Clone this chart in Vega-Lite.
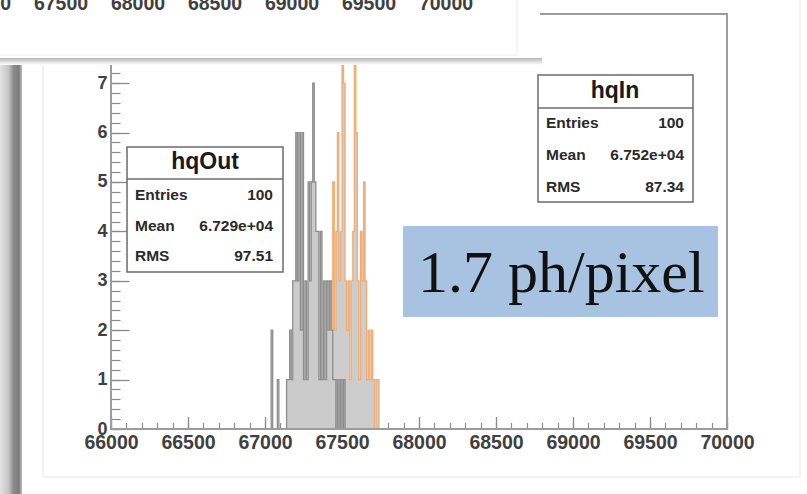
{
  "$schema": "https://vega.github.io/schema/vega-lite/v6.json",
  "width": 616,
  "height": 415,
  "autosize": "none",
  "padding": {"left": 111, "top": 14, "right": 80, "bottom": 65},
  "background": "white",
  "config": {"view": {"stroke": null}},
  "datasets": {
    "hqOut": [
      {"x": 67030, "n": 0}, {"x": 67040, "n": 2}, {"x": 67050, "n": 0}, {"x": 67060, "n": 0},
      {"x": 67070, "n": 0}, {"x": 67080, "n": 1}, {"x": 67090, "n": 0}, {"x": 67100, "n": 0},
      {"x": 67110, "n": 0}, {"x": 67120, "n": 0}, {"x": 67130, "n": 0}, {"x": 67140, "n": 1},
      {"x": 67150, "n": 1}, {"x": 67160, "n": 2}, {"x": 67170, "n": 1}, {"x": 67180, "n": 3},
      {"x": 67190, "n": 3}, {"x": 67200, "n": 6}, {"x": 67210, "n": 3}, {"x": 67220, "n": 6},
      {"x": 67230, "n": 2}, {"x": 67240, "n": 6}, {"x": 67250, "n": 1}, {"x": 67260, "n": 3},
      {"x": 67270, "n": 1}, {"x": 67280, "n": 5}, {"x": 67290, "n": 3}, {"x": 67300, "n": 5},
      {"x": 67310, "n": 7}, {"x": 67320, "n": 5}, {"x": 67330, "n": 4}, {"x": 67340, "n": 4},
      {"x": 67350, "n": 1}, {"x": 67360, "n": 4}, {"x": 67370, "n": 1}, {"x": 67380, "n": 3},
      {"x": 67390, "n": 1}, {"x": 67400, "n": 3}, {"x": 67410, "n": 2}, {"x": 67420, "n": 3},
      {"x": 67430, "n": 2}, {"x": 67440, "n": 1}, {"x": 67450, "n": 1}, {"x": 67460, "n": 0},
      {"x": 67470, "n": 1}, {"x": 67480, "n": 0}, {"x": 67490, "n": 1}, {"x": 67500, "n": 0},
      {"x": 67510, "n": 1}, {"x": 67520, "n": 0}
    ],
    "hqIn": [
      {"x": 67410, "n": 0}, {"x": 67420, "n": 1}, {"x": 67430, "n": 2}, {"x": 67440, "n": 5},
      {"x": 67450, "n": 2}, {"x": 67460, "n": 4}, {"x": 67470, "n": 6}, {"x": 67480, "n": 3},
      {"x": 67490, "n": 4}, {"x": 67500, "n": 8}, {"x": 67510, "n": 7}, {"x": 67520, "n": 3},
      {"x": 67530, "n": 2}, {"x": 67540, "n": 3}, {"x": 67550, "n": 1}, {"x": 67560, "n": 3},
      {"x": 67570, "n": 4}, {"x": 67580, "n": 8}, {"x": 67590, "n": 6}, {"x": 67600, "n": 3},
      {"x": 67610, "n": 1}, {"x": 67620, "n": 4}, {"x": 67630, "n": 3}, {"x": 67640, "n": 5},
      {"x": 67650, "n": 3}, {"x": 67660, "n": 1}, {"x": 67670, "n": 2}, {"x": 67680, "n": 1},
      {"x": 67690, "n": 2}, {"x": 67700, "n": 1}, {"x": 67710, "n": 0}, {"x": 67720, "n": 1},
      {"x": 67730, "n": 1}, {"x": 67740, "n": 0}
    ],
    "topLabels": [
      {"v": 67000}, {"v": 67500}, {"v": 68000}, {"v": 68500}, {"v": 69000}, {"v": 69500}, {"v": 70000}
    ]
  },
  "layer": [
    {
      "data": {"values": [{}]},
      "layer": [
        {
          "mark": {"type": "rect", "fill": "transparent", "stroke": "#e6e6e6", "strokeWidth": 1},
          "encoding": {
            "x": {"datum": 65558.4, "type": "quantitative", "axis": null},
            "x2": {"datum": 70474.0},
            "y": {"datum": -0.9716, "type": "quantitative", "axis": null},
            "y2": {"datum": 8.785}
          }
        },
        {
          "mark": {"type": "rect", "strokeWidth": 0, "fill": {"gradient": "linear", "x1": 0, "y1": 0, "x2": 1, "y2": 0, "stops": [{"offset": 0, "color": "#e2e2e2"}, {"offset": 0.4, "color": "#c4c4c4"}, {"offset": 0.6, "color": "#8e8e8e"}, {"offset": 0.85, "color": "#7c7c7c"}, {"offset": 1, "color": "#bcbcbc"}]}},
          "encoding": {
            "x": {"datum": 65279.2, "type": "quantitative", "axis": null},
            "x2": {"datum": 65422.1},
            "y": {"datum": -1.44, "type": "quantitative", "axis": null},
            "y2": {"datum": 8.785}
          }
        },
        {
          "data": {"name": "hqIn"},
          "mark": {"type": "area", "interpolate": "step-after", "color": "#cdcdcd"},
          "encoding": {
            "x": {"field": "x", "type": "quantitative", "scale": {"domain": [66000, 70000], "nice": false, "zero": false},
              "axis": {"orient": "bottom", "values": [66000, 66500, 67000, 67500, 68000, 68500, 69000, 69500, 70000], "format": "d", "title": null, "grid": false, "domain": false, "tickSize": -12.5, "tickColor": "#8a8a8a", "tickWidth": 1.3, "labelFont": "Liberation Sans", "labelFontWeight": "bold", "labelFontSize": 19.5, "labelColor": "#404040", "labelPadding": 17, "labelFlush": false, "labelOverlap": false, "labelBound": false}},
            "y": {"field": "n", "type": "quantitative", "stack": null, "scale": {"domain": [0, 8.4], "nice": false, "zero": false},
              "axis": {"orient": "left", "values": [0, 1, 2, 3, 4, 5, 6, 7], "title": null, "grid": false, "domain": false, "tickSize": -18, "tickColor": "#8a8a8a", "tickWidth": 1.3, "labelFont": "Liberation Sans", "labelFontWeight": "bold", "labelFontSize": 18, "labelColor": "#404040", "labelPadding": 22, "labelFlush": false, "labelOverlap": false, "labelBound": false}}
          }
        },
        {
          "data": {"name": "hqIn"},
          "mark": {"type": "line", "interpolate": "step-after", "color": "#f4a35e", "strokeWidth": 1.3, "opacity": 0.85},
          "encoding": {
            "x": {"field": "x", "type": "quantitative",
              "axis": {"orient": "bottom", "values": [66000, 66100, 66200, 66300, 66400, 66500, 66600, 66700, 66800, 66900, 67000, 67100, 67200, 67300, 67400, 67500, 67600, 67700, 67800, 67900, 68000, 68100, 68200, 68300, 68400, 68500, 68600, 68700, 68800, 68900, 69000, 69100, 69200, 69300, 69400, 69500, 69600, 69700, 69800, 69900, 70000], "labels": false, "title": null, "grid": false, "domain": false, "tickSize": -6.5, "tickColor": "#8a8a8a", "tickWidth": 1.2}},
            "y": {"field": "n", "type": "quantitative",
              "axis": {"orient": "left", "values": [0, 0.2, 0.4, 0.6, 0.8, 1, 1.2, 1.4, 1.6, 1.8, 2, 2.2, 2.4, 2.6, 2.8, 3, 3.2, 3.4, 3.6, 3.8, 4, 4.2, 4.4, 4.6, 4.8, 5, 5.2, 5.4, 5.6, 5.8, 6, 6.2, 6.4, 6.6, 6.8, 7, 7.2, 7.4, 7.6, 7.8, 8, 8.2], "labels": false, "title": null, "grid": false, "domain": false, "tickSize": -9, "tickColor": "#8a8a8a", "tickWidth": 1.2}}
          }
        },
        {
          "data": {"name": "hqOut"},
          "mark": {"type": "area", "interpolate": "step-after", "color": "#cbcbcb"},
          "encoding": {
            "x": {"field": "x", "type": "quantitative", "axis": null},
            "y": {"field": "n", "type": "quantitative", "stack": null, "axis": null}
          }
        },
        {
          "data": {"name": "hqOut"},
          "mark": {"type": "line", "interpolate": "step-after", "color": "#8e8e8e", "strokeWidth": 1.3},
          "encoding": {
            "x": {"field": "x", "type": "quantitative", "axis": null},
            "y": {"field": "n", "type": "quantitative", "axis": null}
          }
        },
        {
          "mark": {"type": "rect", "fill": "transparent", "stroke": "#9c9c9c", "strokeWidth": 2},
          "encoding": {
            "x": {"datum": 66000, "type": "quantitative", "axis": null},
            "x2": {"datum": 70000},
            "y": {"datum": 0, "type": "quantitative", "axis": null},
            "y2": {"datum": 8.4}
          }
        },
        {
          "mark": {"type": "rect", "fill": "white", "stroke": "#6b6b6b", "strokeWidth": 1.5},
          "encoding": {
            "x": {"datum": 66103.9, "type": "quantitative", "axis": null},
            "x2": {"datum": 67116.9},
            "y": {"datum": 3.178, "type": "quantitative", "axis": null},
            "y2": {"datum": 5.708}
          }
        },
        {
          "mark": {"type": "rule", "stroke": "#6b6b6b", "strokeWidth": 1.5},
          "encoding": {
            "x": {"datum": 66103.9, "type": "quantitative", "axis": null},
            "x2": {"datum": 67116.9},
            "y": {"datum": 5.060, "type": "quantitative", "axis": null}
          }
        },
        {
          "mark": {"type": "text", "font": "Liberation Sans", "fontWeight": "bold", "fontSize": 23, "color": "#1a1a1a", "align": "center", "baseline": "middle"},
          "encoding": {
            "x": {"datum": 66610.4, "type": "quantitative", "axis": null},
            "y": {"datum": 5.404, "type": "quantitative", "axis": null},
            "text": {"value": "hqOut"}
          }
        },
        {
          "mark": {"type": "text", "font": "Liberation Sans", "fontWeight": "bold", "fontSize": 15.5, "color": "#2a2a2a", "align": "left", "baseline": "middle"},
          "encoding": {"x": {"datum": 66155.8, "type": "quantitative", "axis": null}, "y": {"datum": 4.736, "type": "quantitative", "axis": null}, "text": {"value": "Entries"}}
        },
        {
          "mark": {"type": "text", "font": "Liberation Sans", "fontWeight": "bold", "fontSize": 15.5, "color": "#2a2a2a", "align": "left", "baseline": "middle"},
          "encoding": {"x": {"datum": 66155.8, "type": "quantitative", "axis": null}, "y": {"datum": 4.109, "type": "quantitative", "axis": null}, "text": {"value": "Mean"}}
        },
        {
          "mark": {"type": "text", "font": "Liberation Sans", "fontWeight": "bold", "fontSize": 15.5, "color": "#2a2a2a", "align": "left", "baseline": "middle"},
          "encoding": {"x": {"datum": 66155.8, "type": "quantitative", "axis": null}, "y": {"datum": 3.502, "type": "quantitative", "axis": null}, "text": {"value": "RMS"}}
        },
        {
          "mark": {"type": "text", "font": "Liberation Sans", "fontWeight": "bold", "fontSize": 15.5, "color": "#2a2a2a", "align": "right", "baseline": "middle"},
          "encoding": {"x": {"datum": 67052.0, "type": "quantitative", "axis": null}, "y": {"datum": 4.736, "type": "quantitative", "axis": null}, "text": {"value": "100"}}
        },
        {
          "mark": {"type": "text", "font": "Liberation Sans", "fontWeight": "bold", "fontSize": 15.5, "color": "#2a2a2a", "align": "right", "baseline": "middle"},
          "encoding": {"x": {"datum": 67052.0, "type": "quantitative", "axis": null}, "y": {"datum": 4.109, "type": "quantitative", "axis": null}, "text": {"value": "6.729e+04"}}
        },
        {
          "mark": {"type": "text", "font": "Liberation Sans", "fontWeight": "bold", "fontSize": 15.5, "color": "#2a2a2a", "align": "right", "baseline": "middle"},
          "encoding": {"x": {"datum": 67052.0, "type": "quantitative", "axis": null}, "y": {"datum": 3.502, "type": "quantitative", "axis": null}, "text": {"value": "97.51"}}
        },
        {
          "mark": {"type": "rect", "fill": "white", "stroke": "#6b6b6b", "strokeWidth": 1.5},
          "encoding": {
            "x": {"datum": 68772.7, "type": "quantitative", "axis": null},
            "x2": {"datum": 69779.2},
            "y": {"datum": 4.595, "type": "quantitative", "axis": null},
            "y2": {"datum": 7.165}
          }
        },
        {
          "mark": {"type": "rule", "stroke": "#6b6b6b", "strokeWidth": 1.5},
          "encoding": {
            "x": {"datum": 68772.7, "type": "quantitative", "axis": null},
            "x2": {"datum": 69779.2},
            "y": {"datum": 6.497, "type": "quantitative", "axis": null}
          }
        },
        {
          "mark": {"type": "text", "font": "Liberation Sans", "fontWeight": "bold", "fontSize": 23, "color": "#1a1a1a", "align": "center", "baseline": "middle"},
          "encoding": {
            "x": {"datum": 69272.7, "type": "quantitative", "axis": null},
            "y": {"datum": 6.841, "type": "quantitative", "axis": null},
            "text": {"value": "hqIn"}
          }
        },
        {
          "mark": {"type": "text", "font": "Liberation Sans", "fontWeight": "bold", "fontSize": 15.5, "color": "#2a2a2a", "align": "left", "baseline": "middle"},
          "encoding": {"x": {"datum": 68824.7, "type": "quantitative", "axis": null}, "y": {"datum": 6.194, "type": "quantitative", "axis": null}, "text": {"value": "Entries"}}
        },
        {
          "mark": {"type": "text", "font": "Liberation Sans", "fontWeight": "bold", "fontSize": 15.5, "color": "#2a2a2a", "align": "left", "baseline": "middle"},
          "encoding": {"x": {"datum": 68824.7, "type": "quantitative", "axis": null}, "y": {"datum": 5.546, "type": "quantitative", "axis": null}, "text": {"value": "Mean"}}
        },
        {
          "mark": {"type": "text", "font": "Liberation Sans", "fontWeight": "bold", "fontSize": 15.5, "color": "#2a2a2a", "align": "left", "baseline": "middle"},
          "encoding": {"x": {"datum": 68824.7, "type": "quantitative", "axis": null}, "y": {"datum": 4.898, "type": "quantitative", "axis": null}, "text": {"value": "RMS"}}
        },
        {
          "mark": {"type": "text", "font": "Liberation Sans", "fontWeight": "bold", "fontSize": 15.5, "color": "#2a2a2a", "align": "right", "baseline": "middle"},
          "encoding": {"x": {"datum": 69720.8, "type": "quantitative", "axis": null}, "y": {"datum": 6.194, "type": "quantitative", "axis": null}, "text": {"value": "100"}}
        },
        {
          "mark": {"type": "text", "font": "Liberation Sans", "fontWeight": "bold", "fontSize": 15.5, "color": "#2a2a2a", "align": "right", "baseline": "middle"},
          "encoding": {"x": {"datum": 69720.8, "type": "quantitative", "axis": null}, "y": {"datum": 5.546, "type": "quantitative", "axis": null}, "text": {"value": "6.752e+04"}}
        },
        {
          "mark": {"type": "text", "font": "Liberation Sans", "fontWeight": "bold", "fontSize": 15.5, "color": "#2a2a2a", "align": "right", "baseline": "middle"},
          "encoding": {"x": {"datum": 69720.8, "type": "quantitative", "axis": null}, "y": {"datum": 4.898, "type": "quantitative", "axis": null}, "text": {"value": "87.34"}}
        },
        {
          "mark": {"type": "rect", "fill": "#a8c3e1", "strokeWidth": 0},
          "encoding": {
            "x": {"datum": 67896.1, "type": "quantitative", "axis": null},
            "x2": {"datum": 69941.5},
            "y": {"datum": 2.267, "type": "quantitative", "axis": null},
            "y2": {"datum": 4.109}
          }
        },
        {
          "mark": {"type": "text", "font": "Liberation Serif", "fontSize": 60, "color": "#111111", "align": "left", "baseline": "alphabetic"},
          "encoding": {
            "x": {"datum": 67993.5, "type": "quantitative", "axis": null},
            "y": {"datum": 2.773, "type": "quantitative", "axis": null},
            "text": {"value": "1.7 ph/pixel"}
          }
        },
        {
          "mark": {"type": "rect", "strokeWidth": 0, "fill": {"gradient": "linear", "x1": 0, "y1": 0, "x2": 0, "y2": 1, "stops": [{"offset": 0, "color": "#b8b8b8"}, {"offset": 1, "color": "#ffffff"}]}},
          "encoding": {
            "x": {"datum": 65246.8, "type": "quantitative", "axis": null},
            "x2": {"datum": 68800.0},
            "y": {"datum": 7.37, "type": "quantitative", "axis": null},
            "y2": {"datum": 7.509}
          }
        },
        {
          "mark": {"type": "rect", "fill": "white", "strokeWidth": 0},
          "encoding": {
            "x": {"datum": 65246.8, "type": "quantitative", "axis": null},
            "x2": {"datum": 68785.7},
            "y": {"datum": 7.509, "type": "quantitative", "axis": null},
            "y2": {"datum": 8.785}
          }
        },
        {
          "mark": {"type": "rule", "stroke": "#ececec", "strokeWidth": 1},
          "encoding": {
            "x": {"datum": 65246.8, "type": "quantitative", "axis": null},
            "x2": {"datum": 68636.4},
            "y": {"datum": 7.570, "type": "quantitative", "axis": null}
          }
        },
        {
          "mark": {"type": "rule", "stroke": "#ececec", "strokeWidth": 1},
          "encoding": {
            "x": {"datum": 68636.4, "type": "quantitative", "axis": null},
            "y": {"datum": 7.570, "type": "quantitative", "axis": null},
            "y2": {"datum": 8.785}
          }
        }
      ],
      "resolve": {"axis": {"x": "independent", "y": "independent"}}
    },
    {
      "data": {"name": "topLabels"},
      "mark": {"type": "text", "font": "Liberation Sans", "fontWeight": "bold", "fontSize": 19.5, "color": "#404040", "align": "center", "baseline": "alphabetic"},
      "encoding": {
        "x": {"field": "v", "type": "quantitative", "scale": {"domain": [67824.7, 71824.7], "nice": false, "zero": false}, "axis": null},
        "y": {"datum": 8.48, "type": "quantitative", "axis": null},
        "text": {"field": "v", "type": "quantitative", "format": "d"}
      }
    }
  ],
  "resolve": {"scale": {"x": "independent"}}
}
